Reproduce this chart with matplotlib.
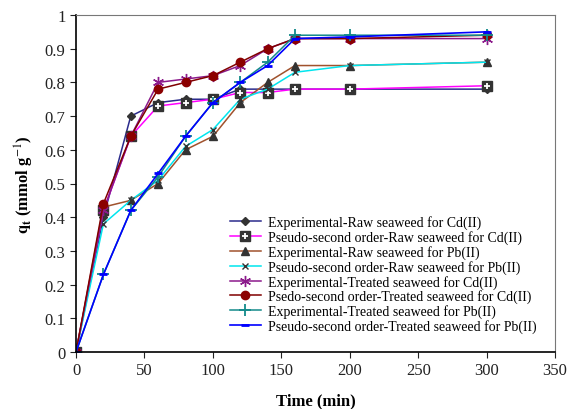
import matplotlib
matplotlib.use("Agg")
import matplotlib.pyplot as plt
from matplotlib.legend_handler import HandlerTuple

plt.rcParams['font.family'] = ['Liberation Serif', 'DejaVu Serif']
plt.rcParams['mathtext.fontset'] = 'stix'

time = [0, 20, 40, 60, 80, 100, 120, 140, 160, 200, 300]

exp_raw_cd = [0, 0.40, 0.70, 0.74, 0.75, 0.75, 0.78, 0.78, 0.78, 0.78, 0.78]
pso_raw_cd = [0, 0.42, 0.64, 0.73, 0.74, 0.75, 0.77, 0.77, 0.78, 0.78, 0.79]
exp_raw_pb = [0, 0.43, 0.45, 0.50, 0.60, 0.64, 0.74, 0.80, 0.85, 0.85, 0.86]
pso_raw_pb = [0, 0.38, 0.45, 0.51, 0.61, 0.66, 0.75, 0.78, 0.83, 0.85, 0.86]
exp_trt_cd = [0, 0.42, 0.64, 0.80, 0.81, 0.82, 0.85, 0.90, 0.93, 0.93, 0.93]
pso_trt_cd = [0, 0.44, 0.64, 0.78, 0.80, 0.82, 0.86, 0.90, 0.93, 0.93, 0.94]
exp_trt_pb = [0, 0.23, 0.42, 0.52, 0.64, 0.74, 0.80, 0.86, 0.94, 0.94, 0.94]
pso_trt_pb = [0, 0.23, 0.42, 0.53, 0.64, 0.74, 0.80, 0.85, 0.93, 0.935, 0.95]

labels = [
    "Experimental-Raw seaweed for Cd(II)",
    "Pseudo-second order-Raw seaweed for Cd(II)",
    "Experimental-Raw seaweed for Pb(II)",
    "Pseudo-second order-Raw seaweed for Pb(II)",
    "Experimental-Treated seaweed for Cd(II)",
    "Psedo-second order-Treated seaweed for Cd(II)",
    "Experimental-Treated seaweed for Pb(II)",
    "Pseudo-second order-Treated seaweed for Pb(II)",
]

fig = plt.figure(figsize=(5.69, 4.10), dpi=100)
ax = fig.add_axes([0.1336, 0.139, 0.842, 0.822])

dk = '#333333'
h1, = ax.plot(time, exp_raw_cd, color='#2b2b8c', lw=1.1, marker='D', ms=4,
              mfc=dk, mec=dk)
h2a, = ax.plot(time, pso_raw_cd, color='#ff00ff', lw=1.1, marker='s', ms=6.5,
               mfc=dk, mec=dk)
h2b, = ax.plot(time, pso_raw_cd, ls='none', marker='+', ms=5, mew=1.3, mec='white')
h3, = ax.plot(time, exp_raw_pb, color='#a0522d', lw=1.1, marker='^', ms=6,
              mfc=dk, mec=dk)
h4, = ax.plot(time, pso_raw_pb, color='#00e5ee', lw=1.1, marker='x', ms=4,
              mec=dk, mew=1)
h5, = ax.plot(time, exp_trt_cd, color='#8b1a8b', lw=1.1, marker=(6, 2, 0), ms=8,
              mec='#8b1a8b', mew=1)
h6, = ax.plot(time, pso_trt_cd, color='#800000', lw=1.1, marker='o', ms=6,
              mfc='#8b0000', mec='#8b0000')
h7, = ax.plot(time, exp_trt_pb, color='#138a8a', lw=1.1, marker='+', ms=8,
              mec='#138a8a', mew=1.3)
h8, = ax.plot(time, pso_trt_pb, color='#0000ff', lw=1.2, marker='_', ms=6,
              mec='#0000ff', mew=2)

handles = [h1, (h2a, h2b), h3, h4, h5, h6, h7, h8]
leg = ax.legend(handles, labels, handler_map={tuple: HandlerTuple(ndivide=1)},
                loc='lower left', bbox_to_anchor=(0.31, 0.04), frameon=False,
                fontsize=10, labelspacing=0.06, handlelength=2.2,
                handletextpad=0.5, borderaxespad=0)

ax.set_xlim(0, 350)
ax.set_ylim(0, 1)
ax.set_xticks(range(0, 351, 50))
ax.set_yticks([i / 10 for i in range(11)])
ax.set_yticklabels(['0', '0.1', '0.2', '0.3', '0.4', '0.5', '0.6', '0.7',
                    '0.8', '0.9', '1'])
ax.tick_params(direction='out', length=4, labelsize=12, colors='#222222')
ax.spines['top'].set_color('#777777')
ax.spines['right'].set_color('#777777')
ax.spines['left'].set_linewidth(1.2)
ax.spines['bottom'].set_linewidth(1.2)

ax.set_xlabel("Time (min)", fontsize=12, fontweight='bold', labelpad=10)
ax.set_ylabel(r"$\mathbf{q_t}$ (mmol g$^{-1}$)", fontsize=12,
              fontweight='bold', labelpad=6)

fig.savefig("out.png", dpi=100)
